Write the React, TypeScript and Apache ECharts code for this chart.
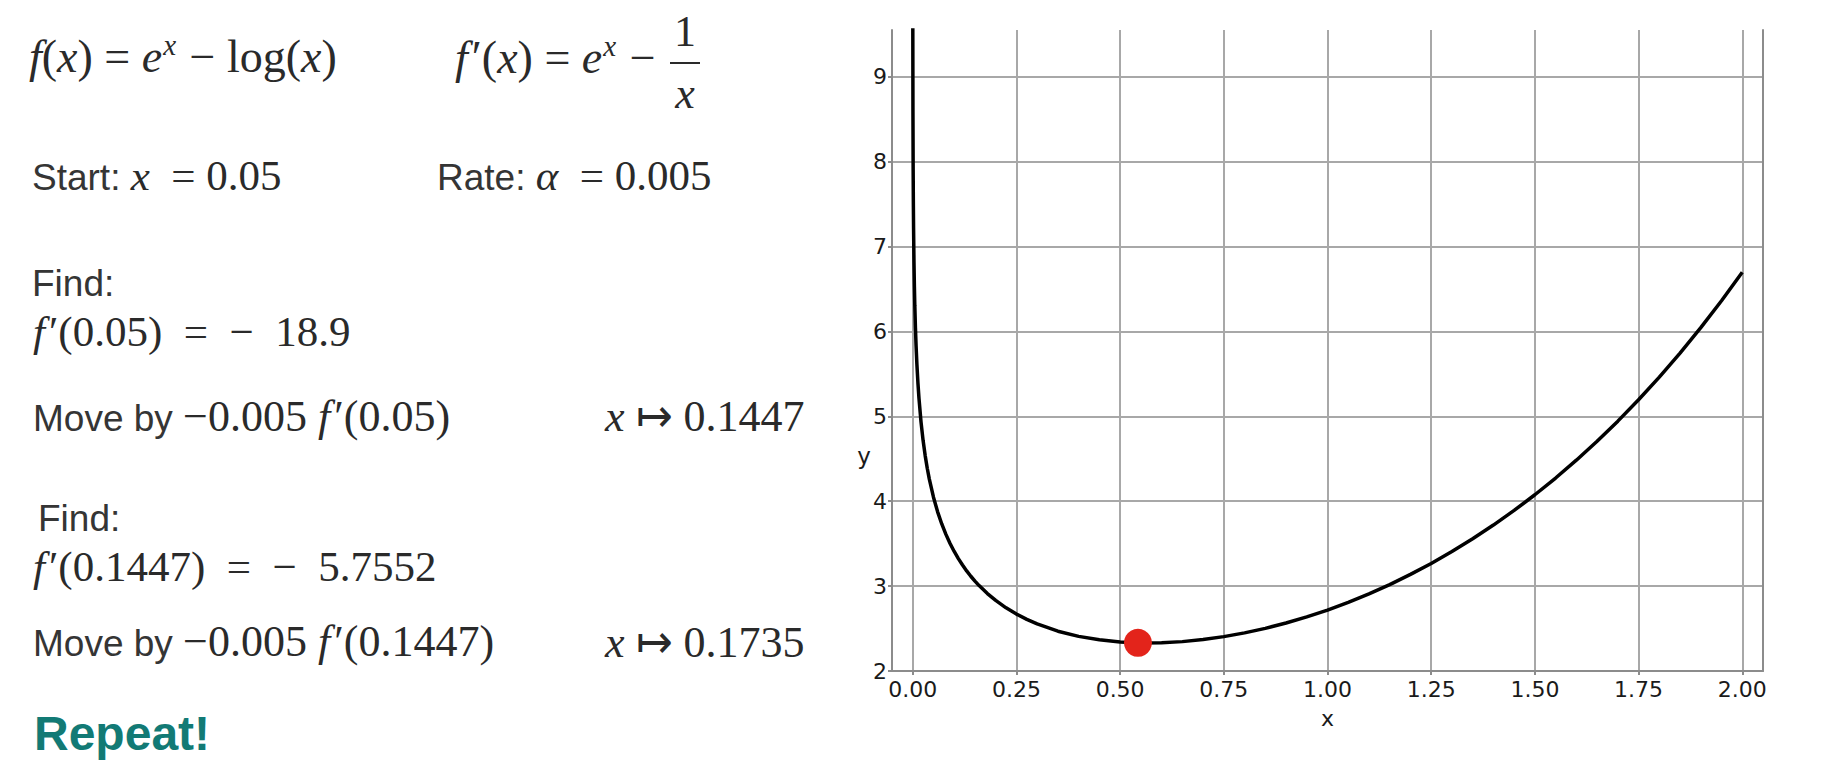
import React, { useEffect, useRef } from "react";
import * as echarts from "echarts";

// Curve y = e^x - log(x)
const curveX = [
  0.0001, 0.0002, 0.0005, 0.001, 0.0015, 0.002, 0.003, 0.004, 0.005, 0.0065,
  0.008, 0.01, 0.0125, 0.015, 0.02, 0.025, 0.03, 0.035, 0.04, 0.05, 0.06, 0.07,
  0.08, 0.09, 0.1, 0.11, 0.12, 0.13, 0.14, 0.15, 0.16, 0.18, 0.2, 0.225, 0.25,
  0.275, 0.3, 0.35, 0.4, 0.45, 0.5, 0.55, 0.6, 0.65, 0.7, 0.75, 0.8, 0.85, 0.9,
  0.95, 1.0, 1.05, 1.1, 1.15, 1.2, 1.25, 1.3, 1.35, 1.4, 1.45, 1.5, 1.55, 1.6,
  1.65, 1.7, 1.75, 1.8, 1.85, 1.9, 1.95, 2.0,
];
const curveY = [
  10.21, 9.517, 8.601, 7.909, 7.504, 7.217, 6.812, 6.526, 6.303, 6.043,
  5.836, 5.615, 5.395, 5.215, 4.932, 4.714, 4.537, 4.388, 4.26, 4.047, 3.875, 3.732,
  3.609, 3.502, 3.408, 3.324, 3.248, 3.179, 3.116, 3.059, 3.006, 2.912, 2.831, 2.744, 2.67,
  2.608, 2.554, 2.469, 2.408, 2.367, 2.342, 2.331, 2.333, 2.346, 2.37, 2.405, 2.449, 2.502, 2.565,
  2.637, 2.718, 2.809, 2.909, 3.018, 3.138, 3.267, 3.407, 3.557, 3.719, 3.892, 4.076, 4.273, 4.483,
  4.706, 4.943, 5.195, 5.462, 5.745, 6.044, 6.361, 6.696,
];

// Current gradient-descent point (red dot)
const pointX = [0.543];
const pointY = [2.332];

// Axis ticks
const xTicks = [0, 0.25, 0.5, 0.75, 1.0, 1.25, 1.5, 1.75, 2.0];
const yTicks = [2, 3, 4, 5, 6, 7, 8, 9];

const MATH = "'Liberation Serif', 'Times New Roman', Times, serif";
const SANS = "'Liberation Sans', Arial, Helvetica, sans-serif";
const TICKFONT = "'DejaVu Sans', sans-serif";
const MATH_COLOR = "#2a2a2a";
const SANS_COLOR = "#353535";
const AXIS_COLOR = "#8c8c8c";
const GRID_COLOR = "#a8a8a8";

const EN = "\u2002";

function richStyles(mathSize: number) {
  return {
    m: { fontFamily: MATH, fontSize: mathSize, fill: MATH_COLOR },
    i: { fontFamily: MATH, fontSize: mathSize, fontStyle: "italic", fill: MATH_COLOR },
    fi: {
      fontFamily: MATH,
      fontSize: mathSize,
      fontStyle: "italic",
      fill: MATH_COLOR,
      padding: [0, 4, 0, 0],
    },
    sup: {
      fontFamily: MATH,
      fontSize: 29,
      fontStyle: "italic",
      fill: MATH_COLOR,
      padding: [0, 2, 22, 1],
    },
    s: { fontFamily: SANS, fontSize: 37, fill: SANS_COLOR, padding: [4, 0, 0, 0] },
    f: { fontFamily: SANS, fontSize: 37, fill: SANS_COLOR },
    b: { fontFamily: SANS, fontSize: 48, fontWeight: "bold", fill: "#127a75" },
  };
}

function textEl(x: number, y: number, text: string, mathSize = 42, align = "left") {
  return {
    type: "text",
    x,
    y,
    silent: true,
    style: {
      text,
      align,
      verticalAlign: "middle",
      fontFamily: MATH,
      fontSize: mathSize,
      fill: MATH_COLOR,
      rich: richStyles(mathSize),
    },
  };
}

export default function App() {
  const ref = useRef<HTMLDivElement | null>(null);

  useEffect(() => {
    if (!ref.current) return;
    const chart = echarts.init(ref.current, undefined, { renderer: "svg" });

    const curveData = curveX.map((x, i) => [x, curveY[i]]);
    const pointData = pointX.map((x, i) => [x, pointY[i]]);

    const labelStyle = {
      fontFamily: TICKFONT,
      fontSize: 22,
      color: "#1a1a1a",
    };

    const option: any = {
      animation: false,
      backgroundColor: "#ffffff",
      grid: { left: 892, right: 69, top: 30, bottom: 108, outerBoundsMode: "none" },
      xAxis: {
        type: "value",
        min: -0.05,
        max: 2.05,
        name: "x",
        nameLocation: "middle",
        nameGap: 36,
        nameTextStyle: labelStyle,
        axisLine: { show: true, onZero: false, lineStyle: { color: AXIS_COLOR, width: 2 } },
        axisTick: {
          show: true,
          customValues: xTicks,
          length: 4,
          lineStyle: { color: AXIS_COLOR, width: 2 },
        },
        axisLabel: {
          customValues: xTicks,
          margin: 7,
          formatter: (v: number) => v.toFixed(2),
          ...labelStyle,
        },
        splitLine: { show: true, lineStyle: { color: GRID_COLOR, width: 2 } },
      },
      yAxis: [
        {
          type: "value",
          min: 2,
          max: 9.55,
          axisLine: { show: true, onZero: false, lineStyle: { color: AXIS_COLOR, width: 2 } },
          axisTick: {
            show: true,
            customValues: yTicks,
            length: 4,
            lineStyle: { color: AXIS_COLOR, width: 2 },
          },
          axisLabel: {
            customValues: yTicks,
            margin: 5,
            formatter: (v: number) => String(v),
            ...labelStyle,
          },
          splitLine: { show: true, lineStyle: { color: GRID_COLOR, width: 2 } },
        },
        {
          type: "value",
          min: 2,
          max: 9.55,
          position: "right",
          axisLine: { show: true, onZero: false, lineStyle: { color: AXIS_COLOR, width: 2 } },
          axisTick: { show: false },
          axisLabel: { show: false },
          splitLine: { show: false },
        },
      ],
      series: [
        {
          type: "line",
          data: curveData,
          yAxisIndex: 0,
          symbol: "none",
          showSymbol: false,
          clip: true,
          lineStyle: { color: "#000000", width: 3.5 },
          z: 3,
        },
        {
          type: "scatter",
          data: pointData,
          yAxisIndex: 0,
          symbolSize: 28,
          itemStyle: { color: "#e3241b", opacity: 1 },
          z: 5,
        },
      ],
      graphic: [
        // y axis name
        {
          type: "text",
          x: 864,
          y: 456,
          silent: true,
          style: {
            text: "y",
            align: "center",
            verticalAlign: "middle",
            fontFamily: TICKFONT,
            fontSize: 23,
            fill: "#1a1a1a",
          },
        },
        textEl(29, 56, `{i|f}{m|(}{i|x}{m|) = }{i|e}{sup|x}{m| − log(}{i|x}{m|)}`, 46),
        textEl(455, 57, `{fi|f}{m|′(}{i|x}{m|) = }{i|e}{sup|x}{m| − }`, 46),
        textEl(685, 31, `{m|1}`, 44, "center"),
        {
          type: "line",
          silent: true,
          shape: { x1: 670, y1: 63, x2: 700, y2: 63 },
          style: { stroke: MATH_COLOR, lineWidth: 2 },
        },
        textEl(685, 93, `{i|x}`, 44, "center"),
        textEl(32, 175, `{s|Start: }{i|x}{m|${EN}= 0.05}`, 43),
        textEl(437, 175, `{s|Rate: }{i|α}{m|${EN}= 0.005}`, 43),
        textEl(32, 283, `{f|Find:}`),
        textEl(33, 331, `{fi|f}{m|′(0.05)${EN}=${EN}−${EN}18.9}`, 43),
        textEl(33, 416, `{s|Move by }{m|−0.005 }{fi|f}{m|′(0.05)}`, 44),
        textEl(605, 416, `{i|x}{m| ↦ 0.1447}`, 44),
        textEl(38, 518, `{f|Find:}`),
        textEl(33, 566, `{fi|f}{m|′(0.1447)${EN}=${EN}−${EN}5.7552}`, 43),
        textEl(33, 641, `{s|Move by }{m|−0.005 }{fi|f}{m|′(0.1447)}`, 44),
        textEl(605, 642, `{i|x}{m| ↦ 0.1735}`, 44),
        textEl(34, 733, `{b|Repeat!}`),
      ],
    };

    chart.setOption(option);
    return () => {
      chart.dispose();
    };
  }, []);

  return (
    <div
      ref={ref}
      style={{
        position: "fixed",
        left: 0,
        top: 0,
        width: "1832px",
        height: "779px",
        background: "#ffffff",
      }}
    />
  );
}
